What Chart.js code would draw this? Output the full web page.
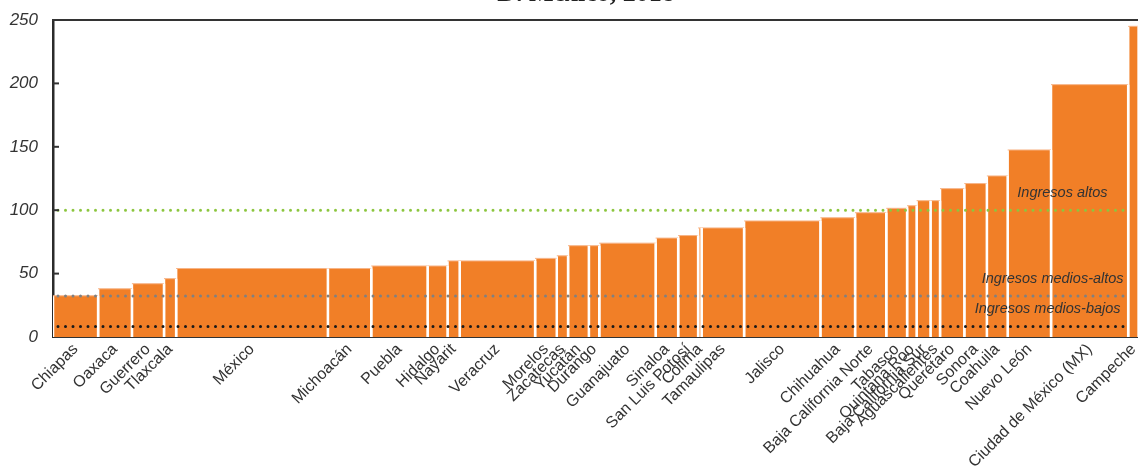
<!DOCTYPE html>
<html>
<head>
<meta charset="utf-8">
<script src="https://cdn.jsdelivr.net/npm/chart.js@4.4.1/dist/chart.umd.min.js"></script>
<style>
  html, body { margin: 0; padding: 0; background: #fff; overflow: hidden; }
  #wrap { width: 1150px; height: 466px; }
</style>
</head>
<body>
<div id="wrap"><canvas id="pibChart"></canvas></div>
<script>
// Entidades, ordenadas de menor a mayor ingreso
const estados = ['Chiapas', 'Oaxaca', 'Guerrero', 'Tlaxcala', 'México', 'Michoacán', 'Puebla', 'Hidalgo',
  'Nayarit', 'Veracruz', 'Morelos', 'Zacatecas', 'Yucatán', 'Durango', 'Guanajuato', 'Sinaloa',
  'San Luis Potosí', 'Colima', 'Tamaulipas', 'Jalisco', 'Chihuahua', 'Baja California Norte', 'Tabasco',
  'Quintana Roo', 'Baja California Sur', 'Aguascalientes', 'Querétaro', 'Sonora', 'Coahuila', 'Nuevo León',
  'Ciudad de México (MX)', 'Campeche'];
// altura de cada barra (umbral de ingresos altos = 100)
const ingreso = [32.5, 38, 42, 46, 54, 54, 56, 56, 60, 60, 62, 64, 72, 72, 74, 78,
  80, 86, 86, 91.5, 94, 98, 101.5, 103.5, 107.5, 107.5, 117, 121, 127, 147.5, 199, 245];
// ancho de cada barra (población, millones)
const poblacion = [5.2, 3.9, 3.7, 1.4, 17.5, 5.0, 6.5, 2.3, 1.4, 8.7, 2.5, 1.3, 2.4, 1.2, 6.5, 2.6,
  2.3, 0.4, 4.9, 8.8, 4.0, 3.6, 2.4, 1.1, 1.6, 1.1, 2.8, 2.6, 2.4, 5.0, 8.9, 1.2];
// umbrales de ingreso
const umbrales = [100, 32.3, 8.3];
const umbralNombres = ['Ingresos altos', 'Ingresos medios-altos', 'Ingresos medios-bajos'];
const yTicks = [0, 50, 100, 150, 200, 250];
const titulo = 'D. México, 2018';

const umbralColores = ['#8cc63f', '#808080', '#1a1a1a'];

// inicio y centro de cada barra
const inicio = [];
let acum = 0;
poblacion.forEach(p => { inicio.push(acum); acum += p; });
const total = acum;
const centros = inicio.map((s, i) => s + poblacion[i] / 2);

const barras = estados.map((e, i) => {
  const x0 = inicio[i], x1 = x0 + poblacion[i];
  return {
    label: e,
    data: [{x: x0, y: 0}, {x: x0, y: ingreso[i]}, {x: x1, y: ingreso[i]}, {x: x1, y: 0}],
    backgroundColor: '#f17f27',
    fill: 'origin',
    borderWidth: 2,
    pointRadius: 0,
    order: 2,
    segment: {
      borderColor: ctx => ctx.p0DataIndex === 1 ? '#f7b487' : '#ffffff',
      borderWidth: ctx => ctx.p0DataIndex === 1 ? 1 : 2.5
    }
  };
});

const lineas = umbrales.map((u, i) => ({
  label: umbralNombres[i],
  data: [{x: 0, y: u}, {x: inicio[inicio.length - 1], y: u}],
  borderColor: umbralColores[i],
  borderWidth: 3,
  borderDash: [0, 7.5],
  borderDashOffset: 2.5,
  borderCapStyle: 'round',
  pointRadius: 0,
  fill: false,
  order: 0
}));

// borde superior, marcas del eje, textos de umbral y título
const extras = {
  id: 'extras',
  afterDatasetsDraw(chart) {
    const {ctx, chartArea: a, scales: {y}} = chart;
    ctx.save();
    ctx.strokeStyle = '#333';
    ctx.lineWidth = 2;
    ctx.beginPath();
    ctx.moveTo(a.left - 1, a.top);
    ctx.lineTo(chart.width, a.top);
    ctx.stroke();

    yTicks.slice(1, -1).forEach(v => {
      const py = y.getPixelForValue(v);
      ctx.beginPath();
      ctx.moveTo(a.left, py);
      ctx.lineTo(a.left + 6, py);
      ctx.stroke();
    });

    const derecha = [31, 15, 18];
    ctx.fillStyle = '#333';
    ctx.font = 'italic 14.5px "Liberation Sans", Arial, sans-serif';
    ctx.textAlign = 'right';
    ctx.textBaseline = 'alphabetic';
    umbrales.forEach((u, i) => {
      ctx.fillText(umbralNombres[i], a.right - derecha[i], y.getPixelForValue(u) - 13);
    });

    ctx.fillStyle = '#222';
    ctx.font = 'bold 26px "Liberation Serif", serif';
    ctx.textAlign = 'center';
    ctx.fillText(titulo, 586, 1);
    ctx.restore();
  }
};

new Chart(document.getElementById('pibChart').getContext('2d'), {
  type: 'line',
  data: { datasets: [...lineas, ...barras] },
  options: {
    responsive: true,
    maintainAspectRatio: false,
    animation: false,
    layout: { padding: { top: 20, right: 8, left: 0, bottom: 0 } },
    plugins: { legend: { display: false }, tooltip: { enabled: false } },
    scales: {
      x: {
        type: 'linear',
        min: 0,
        max: total,
        grid: { display: false, drawTicks: false },
        border: { display: true, color: '#333', width: 2 },
        afterBuildTicks: axis => { axis.ticks = centros.map(c => ({ value: c })); },
        afterFit: axis => { axis.height = 129; },
        ticks: {
          autoSkip: false,
          maxRotation: 45,
          minRotation: 45,
          padding: 3,
          color: '#333',
          font: { family: 'Liberation Sans', size: 16 },
          callback: (v, i) => estados[i]
        }
      },
      y: {
        type: 'linear',
        min: 0,
        max: 250,
        grid: { display: false, drawTicks: false },
        border: { display: true, color: '#2b2b2b', width: 2.5 },
        afterBuildTicks: axis => { axis.ticks = yTicks.map(v => ({ value: v })); },
        afterFit: axis => { axis.width = 53; axis.paddingTop = 10; },
        ticks: {
          padding: 15,
          color: '#333',
          font: { family: 'Liberation Sans', size: 17, style: 'italic' }
        }
      }
    }
  },
  plugins: [extras]
});
</script>
</body>
</html>
